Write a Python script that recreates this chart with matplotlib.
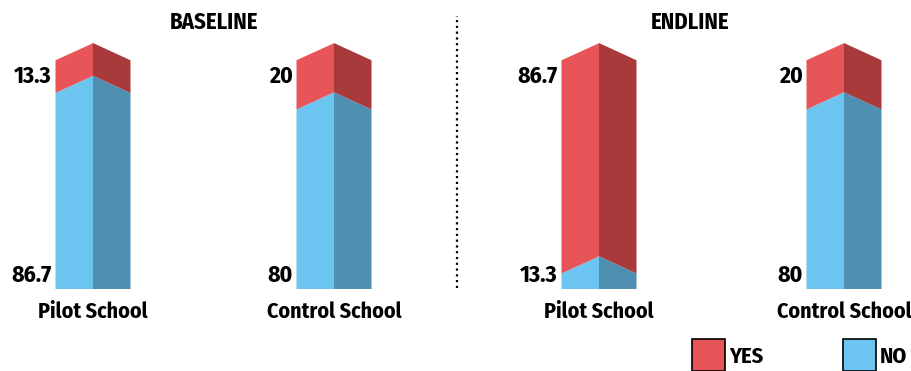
import matplotlib.pyplot as plt
from matplotlib.patches import Polygon, Rectangle

groups = ["BASELINE", "ENDLINE"]
schools = ["Pilot School", "Control School", "Pilot School", "Control School"]
yes_pct = [13.3, 20, 86.7, 20]
no_pct = [86.7, 80, 13.3, 80]
yes_labels = ["13.3", "20", "86.7", "20"]
no_labels = ["86.7", "80", "13.3", "80"]

plt.rcParams['font.family'] = ['Fira Sans Condensed', 'DejaVu Sans']
plt.rcParams['font.weight'] = 'bold'

red, red_dark = "#e85558", "#a93a3b"
blue, blue_dark = "#6cc5f0", "#4f8fb2"

fig = plt.figure(figsize=(9.12, 3.71), dpi=100)
ax = fig.add_axes([0, 0.221, 1, 0.663])
ax.set_xlim(0, 912)
ax.set_ylim(0, 100)
ax.axis("off")

centers = [93, 334, 599, 844]
half = 37.5
drop = 7.0

def face(x0, x1, y_bot0, y_bot1, y_top0, y_top1, color):
    ax.add_patch(Polygon([(x0, y_bot0), (x1, y_bot1), (x1, y_top1), (x0, y_top0)],
                         closed=True, facecolor=color, edgecolor="none", lw=0))

for c, yes, no, ylab, nlab, name in zip(centers, yes_pct, no_pct, yes_labels, no_labels, schools):
    edge_no = no - drop
    # NO part (bottom)
    face(c - half, c + 0.3, 0, 0, edge_no, no, blue)
    face(c, c + half, 0, 0, no, edge_no, blue_dark)
    # YES part (top)
    face(c - half, c + 0.3, edge_no, no, 100 - drop, 100, red)
    face(c, c + half, no, edge_no, 100, 100 - drop, red_dark)
    ax.text(c - half - 4, 86.6, ylab, ha="right", va="center", fontsize=17, fontweight="bold")
    ax.text(c - half - 4, 5.7, nlab, ha="right", va="center", fontsize=17, fontweight="bold")
    ax.text(c, -9.2, name, ha="center", va="center", fontsize=15.8, fontweight="bold", clip_on=False)

ax.text(214, 108.5, groups[0], ha="center", va="center", fontsize=16.3, fontweight="bold", clip_on=False)
ax.text(690, 108.5, groups[1], ha="center", va="center", fontsize=16.3, fontweight="bold", clip_on=False)

ax.plot([457, 457], [0.5, 111], color="black", lw=1.6, ls=(0, (1, 1.6)), clip_on=False)

# legend
for x0, col, lab in [(692, red, "YES"), (843, blue, "NO")]:
    ax.add_patch(Rectangle((x0, -33.5), 33, 13, facecolor=col, edgecolor="black", lw=1.2, clip_on=False))
    ax.text(x0 + 37, -27.6, lab, ha="left", va="center", fontsize=16, fontweight="bold", clip_on=False)

fig.savefig("out.png", dpi=100)
